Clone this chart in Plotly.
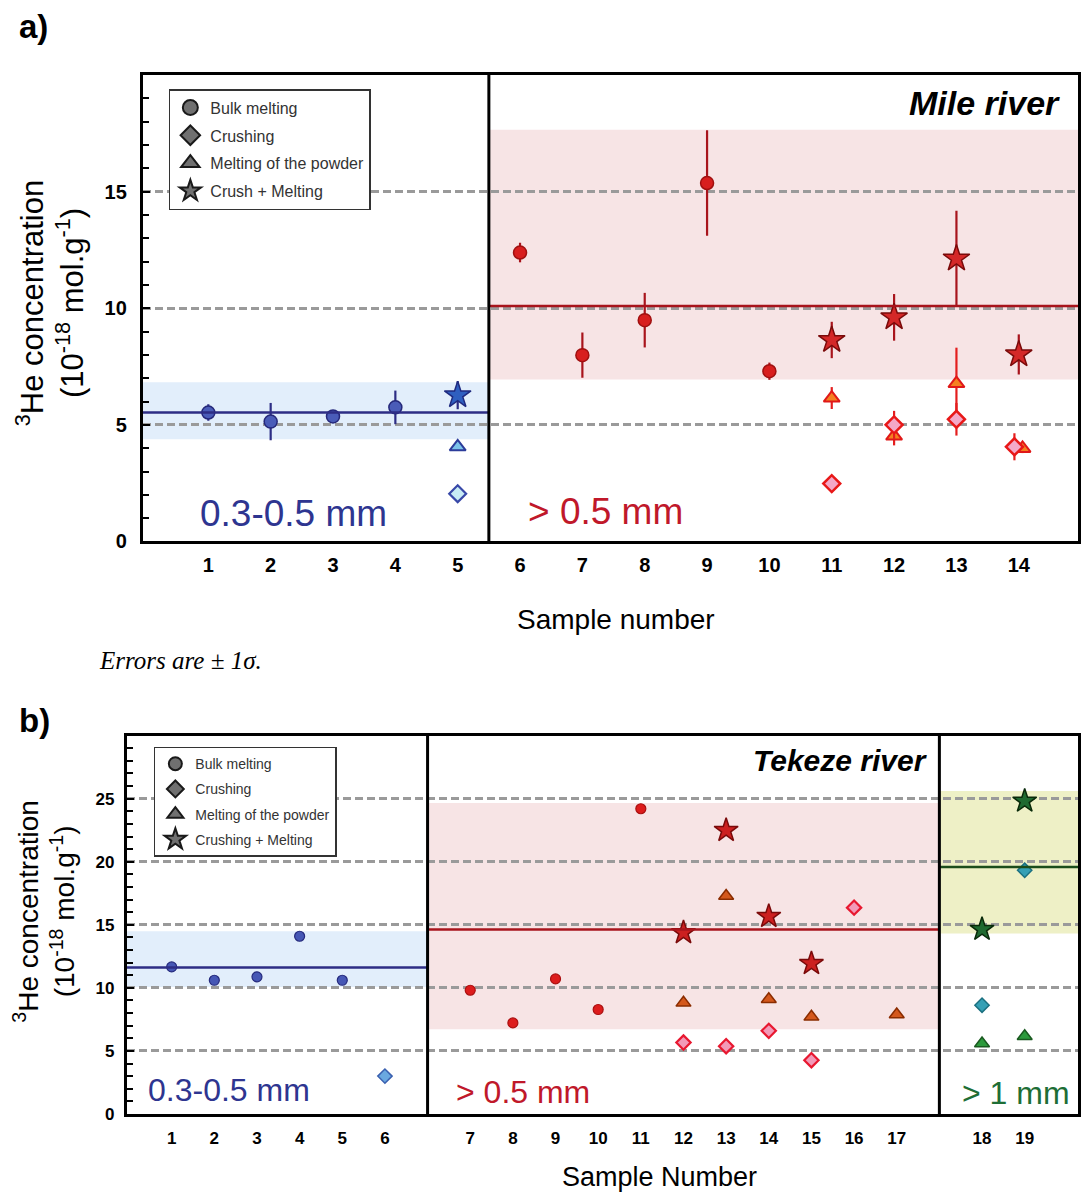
import plotly.graph_objects as go

W, H = 1081, 1192
H_EFF = 1180  # vertical mapping of the photographed page
FONT = "Liberation Sans, Arial, sans-serif"

# ---------------- Panel a data (Mile river) ----------------
a_fine_bulk_x = [1, 2, 3, 4]
a_fine_bulk_y = [5.53, 5.14, 5.36, 5.75]
a_fine_bulk_e = [0.35, 0.80, 0.15, 0.72]
a_fine_cm_x = [5]
a_fine_cm_y = [6.27]
a_fine_cm_e = [0.60]
a_fine_pow_x = [5]
a_fine_pow_y = [4.06]
a_fine_pow_e = [0.15]
a_fine_cr_x = [5]
a_fine_cr_y = [2.05]
a_fine_cr_e = [0.10]
a_fine_mean = [5.53]
a_fine_band = [4.38, 6.83]

a_coarse_bulk_x = [6, 7, 8, 9, 10]
a_coarse_bulk_y = [12.39, 7.99, 9.49, 15.37, 7.30]
a_coarse_bulk_e = [0.42, 0.97, 1.17, 2.26, 0.37]
a_coarse_cm_x = [11, 12, 13, 14]
a_coarse_cm_y = [8.64, 9.61, 12.13, 8.02]
a_coarse_cm_e = [0.78, 1.00, 2.05, 0.86]
a_coarse_pow_x = [11, 12, 13, 14.06]
a_coarse_pow_y = [6.15, 4.52, 6.77, 3.99]
a_coarse_pow_e = [0.47, 0.40, 1.54, 0.20]
a_coarse_cr_x = [11, 12, 13, 13.93]
a_coarse_cr_y = [2.48, 5.00, 5.24, 4.06]
a_coarse_cr_e = [0.37, 0.60, 0.70, 0.58]
a_coarse_mean = [10.1]
a_coarse_band = [6.94, 17.66]

a_ticks = list(range(1, 15))
a_yticks = [0, 5, 10, 15]

# ---------------- Panel b data (Tekeze river) ----------------
b_fine_bulk_s = [1, 2, 3, 4, 5]
b_fine_bulk_y = [11.66, 10.60, 10.87, 14.09, 10.60]
b_fine_cr_s = [6]
b_fine_cr_y = [3.0]
b_fine_mean = [11.61]
b_fine_band = [10.07, 14.48]

b_mid_bulk_s = [7, 8, 9, 10, 11]
b_mid_bulk_y = [9.81, 7.22, 10.71, 8.28, 24.2]
b_mid_cm_s = [12, 13, 14, 15]
b_mid_cm_y = [14.38, 22.49, 15.67, 11.93]
b_mid_pow_s = [12, 13, 14, 15, 17]
b_mid_pow_y = [8.81, 17.28, 9.10, 7.70, 7.88]
b_mid_cr_s = [12, 13, 14, 15, 16]
b_mid_cr_y = [5.66, 5.37, 6.59, 4.26, 16.36]
b_mid_mean = [14.62]
b_mid_band = [6.72, 24.65]

b_big_cm_s = [18, 19]
b_big_cm_y = [14.64, 24.81]
b_big_cr_s = [18, 19]
b_big_cr_y = [8.62, 19.32]
b_big_pow_s = [18, 19]
b_big_pow_y = [5.58, 6.16]
b_big_mean = [19.58]
b_big_band = [14.3, 25.6]

b_samples = list(range(1, 20))
b_yticks = [0, 5, 10, 15, 20, 25]


def bpos(samples):
    # sample number -> axis position (gaps between size fractions)
    return [s + (0 if s <= 6 else (1 if s <= 17 else 2)) for s in samples]


fig = go.Figure()


def add(x, y, err, xa, ya, symbol, size, fill, line, lw, ecol=None):
    kw = {}
    if err is not None:
        kw["error_y"] = dict(type="data", array=err, visible=True, width=0,
                             thickness=2.2, color=ecol)
    fig.add_trace(go.Scatter(x=x, y=y, mode="markers", xaxis=xa, yaxis=ya,
                             showlegend=False, hoverinfo="skip",
                             marker=dict(symbol=symbol, size=size, color=fill,
                                         line=dict(color=line, width=lw)), **kw))


# Panel a traces
add(a_fine_bulk_x, a_fine_bulk_y, a_fine_bulk_e, "x", "y", "circle", 13, "#4a5cb8", "#25287a", 1.5, "#2d2d85")
add(a_fine_cm_x, a_fine_cm_y, a_fine_cm_e, "x", "y", "star", 20, "#2f5fc0", "#1f2a80", 1.5, "#2d2d85")
add(a_fine_pow_x, a_fine_pow_y, a_fine_pow_e, "x", "y", "triangle-up", 14, "#7cc3ea", "#2c3c9a", 2, "#2d2d85")
add(a_fine_cr_x, a_fine_cr_y, a_fine_cr_e, "x", "y", "diamond", 13, "#c8ecf5", "#3848a8", 2.2, "#2d2d85")

add(a_coarse_bulk_x, a_coarse_bulk_y, a_coarse_bulk_e, "x", "y", "circle", 13, "#d81e1e", "#a01010", 1.5, "#a8141c")
add(a_coarse_cm_x, a_coarse_cm_y, a_coarse_cm_e, "x", "y", "star", 20, "#d42828", "#7a0a0a", 1.5, "#a8141c")
add(a_coarse_pow_x, a_coarse_pow_y, a_coarse_pow_e, "x", "y", "triangle-up", 14, "#f58020", "#e01818", 2, "#e41e1e")
add(a_coarse_cr_x, a_coarse_cr_y, a_coarse_cr_e, "x", "y", "diamond", 13, "#f4a8c8", "#e81818", 2.5, "#e41e1e")

# Panel b traces
add(bpos(b_fine_bulk_s), b_fine_bulk_y, None, "x2", "y2", "circle", 10, "#4657b5", "#262b7e", 1.2)
add(bpos(b_fine_cr_s), b_fine_cr_y, None, "x2", "y2", "diamond", 11, "#6aa8e0", "#3a60b0", 1.5)

add(bpos(b_mid_bulk_s), b_mid_bulk_y, None, "x2", "y2", "circle", 10, "#dd1c1c", "#aa1010", 1.2)
add(bpos(b_mid_pow_s), b_mid_pow_y, None, "x2", "y2", "triangle-up", 13, "#d4581c", "#8a2c00", 1.5)
add(bpos(b_mid_cr_s), b_mid_cr_y, None, "x2", "y2", "diamond", 11, "#f29ab8", "#e81830", 2.2)
add(bpos(b_mid_cm_s), b_mid_cm_y, None, "x2", "y2", "star", 18, "#cc2020", "#7a0a0a", 1.5)

add(bpos(b_big_cm_s), b_big_cm_y, None, "x2", "y2", "star", 18, "#1f6a30", "#0a2a0a", 1.5)
add(bpos(b_big_cr_s), b_big_cr_y, None, "x2", "y2", "diamond", 11, "#35a0b5", "#1b7080", 1.5)
add(bpos(b_big_pow_s), b_big_pow_y, None, "x2", "y2", "triangle-up", 13, "#2c9a3c", "#1a5a20", 1.5)

# Legends (gray symbols)
legend_a_names = ["Bulk melting", "Crushing", "Melting of the powder", "Crush + Melting"]
legend_b_names = ["Bulk melting", "Crushing", "Melting of the powder", "Crushing + Melting"]
legend_symbols = ["circle", "diamond", "triangle-up", "star"]
legend_a_sizes = [15, 15, 16, 20]
legend_b_sizes = [13, 13, 14, 18]
for i, (nm, sym, sz) in enumerate(zip(legend_a_names, legend_symbols, legend_a_sizes)):
    fig.add_trace(go.Scatter(x=[None], y=[None], mode="markers", name=nm, legend="legend",
                             legendgroup="a%d" % i, xaxis="x", yaxis="y",
                             marker=dict(symbol=sym, size=sz, color="#707070",
                                         line=dict(color="#1a1a1a", width=2))))
for i, (nm, sym, sz) in enumerate(zip(legend_b_names, legend_symbols, legend_b_sizes)):
    fig.add_trace(go.Scatter(x=[None], y=[None], mode="markers", name=nm, legend="legend2",
                             legendgroup="b%d" % i, xaxis="x2", yaxis="y2",
                             marker=dict(symbol=sym, size=sz, color="#707070",
                                         line=dict(color="#1a1a1a", width=2))))

shapes = []


def band(xref, yref, x0, x1, yb, col):
    shapes.append(dict(type="rect", xref=xref, yref=yref, x0=x0, x1=x1, y0=yb[0], y1=yb[1],
                       fillcolor=col, line=dict(width=0), layer="below"))


def hline(xref, yref, x0, x1, yv, col):
    shapes.append(dict(type="line", xref=xref, yref=yref, x0=x0, x1=x1, y0=yv[0], y1=yv[0],
                       line=dict(color=col, width=2.5), layer="above"))


def vline(xref, yref, xv):
    shapes.append(dict(type="line", xref=xref, yref=yref, x0=xv, x1=xv, y0=0, y1=1,
                       line=dict(color="black", width=3), layer="above"))


A_X = [-0.05, 14.95]
B_X = [-0.05, 22.25]
band("x", "y", A_X[0], 5.5, a_fine_band, "#e2eefb")
band("x", "y", 5.5, A_X[1], a_coarse_band, "#f7e4e5")
hline("x", "y", A_X[0], 5.5, a_fine_mean, "#2d2d85")
hline("x", "y", 5.5, A_X[1], a_coarse_mean, "#a8141c")
vline("x", "y domain", 5.5)

band("x2", "y2", B_X[0], 7, b_fine_band, "#e2eefb")
band("x2", "y2", 7, 19, b_mid_band, "#f7e4e5")
band("x2", "y2", 19, B_X[1], b_big_band, "#eef0c6")
hline("x2", "y2", B_X[0], 7, b_fine_mean, "#2d2d85")
hline("x2", "y2", 7, 19, b_mid_mean, "#a8141c")
hline("x2", "y2", 19, B_X[1], b_big_mean, "#1b4d1b")
vline("x2", "y2 domain", 7)
vline("x2", "y2 domain", 19)


def px(x):
    return x / W


def py(y):
    return 1 - y / H_EFF


ann = []


def text(x, y, t, size, color="black", xanchor="left", yanchor="middle", bold=False,
         italic=False, family=FONT, angle=0):
    ann.append(dict(x=px(x), y=py(y), xref="paper", yref="paper", text=t, showarrow=False,
                    xanchor=xanchor, yanchor=yanchor, textangle=angle,
                    font=dict(size=size, color=color, family=family,
                              weight="bold" if bold else "normal",
                              style="italic" if italic else "normal")))


text(17, 26, "a)", 33, bold=True)
text(17, 720, "b)", 33, bold=True)
text(97, 660, "Errors are ± 1σ.", 25, italic=True, family="Liberation Serif, Times New Roman, serif")
text(617, 619, "Sample number", 28, xanchor="center")
text(660, 1176, "Sample Number", 27, xanchor="center")
text(50, 303, "<sup>3</sup>He concentration<br>(10<sup>-18</sup> mol.g<sup>-1</sup>)", 31,
     xanchor="center", angle=-90)
text(44, 910, "<sup>3</sup>He concentration<br>(10<sup>-18</sup> mol.g<sup>-1</sup>)", 28,
     xanchor="center", angle=-90)
text(1063, 103, "Mile river", 34, xanchor="right", bold=True, italic=True)
text(931, 760, "Tekeze river", 30, xanchor="right", bold=True, italic=True)
text(198, 513, "0.3-0.5 mm", 37, color="#2e3590")
text(526, 511, "> 0.5 mm", 37, color="#c0182a")
text(146, 1089, "0.3-0.5 mm", 32, color="#2e3590")
text(454, 1091, "> 0.5 mm", 32, color="#c0182a")
text(961, 1092, "> 1 mm", 32, color="#1e6e36")

axis_common = dict(showline=True, linewidth=3, linecolor="black", mirror=True, zeroline=False)

fig.update_layout(
    width=W, height=H, autosize=False, margin=dict(l=0, r=0, t=0, b=0),
    paper_bgcolor="white", plot_bgcolor="white",
    shapes=shapes, annotations=ann,
    xaxis=dict(domain=[px(143), px(1079)], anchor="y", range=A_X, tickmode="array",
               tickvals=a_ticks, ticktext=[str(t) for t in a_ticks], showgrid=False,
               ticks="outside", ticklen=4, tickcolor="rgba(0,0,0,0)",
               tickfont=dict(size=20, family=FONT, weight="bold", color="black"), **axis_common),
    yaxis=dict(domain=[py(541), py(75)], anchor="x", range=[0, 20], tickmode="array",
               tickvals=a_yticks, ticktext=[str(t) for t in a_yticks],
               showgrid=True, gridcolor="#9a9a9a", gridwidth=2.5, griddash="8px,4px",
               ticks="inside", ticklen=7, tickwidth=2, tickcolor="black", ticklabelstandoff=9,
               minor=dict(tickmode="linear", tick0=0, dtick=1, ticks="inside", ticklen=6,
                          tickwidth=2, tickcolor="black", showgrid=False),
               tickfont=dict(size=20, family=FONT, weight="bold", color="black"), **axis_common),
    xaxis2=dict(domain=[px(127), px(1079)], anchor="y2", range=B_X, tickmode="array",
                tickvals=bpos(b_samples), ticktext=[str(s) for s in b_samples], showgrid=False,
                ticks="outside", ticklen=7, tickcolor="rgba(0,0,0,0)",
                tickfont=dict(size=17, family=FONT, weight="bold", color="black"), **axis_common),
    yaxis2=dict(domain=[py(1113), py(735)], anchor="x2", range=[0, 30], tickmode="array",
                tickvals=b_yticks, ticktext=[str(t) for t in b_yticks],
                showgrid=True, gridcolor="#9a9a9a", gridwidth=2.5, griddash="8px,4px",
                ticks="inside", ticklen=7, tickwidth=2, tickcolor="black", ticklabelstandoff=6,
                minor=dict(tickmode="linear", tick0=0, dtick=1, ticks="inside", ticklen=6,
                           tickwidth=2, tickcolor="black", showgrid=False),
                tickfont=dict(size=17, family=FONT, weight="bold", color="black"), **axis_common),
    legend=dict(x=px(169), y=py(89), xanchor="left", yanchor="top", bgcolor="white",
                bordercolor="#333333", borderwidth=1.5, tracegroupgap=4, traceorder="grouped",
                font=dict(size=16, family=FONT, color="#333333")),
    legend2=dict(x=px(154), y=py(746), xanchor="left", yanchor="top", bgcolor="white",
                 bordercolor="#333333", borderwidth=1.5, tracegroupgap=4, traceorder="grouped",
                 font=dict(size=14, family=FONT, color="#333333")),
)

fig.write_html("out.html",
               config={"displayModeBar": False, "responsive": False},
               post_script="document.body.style.margin='0';document.body.style.overflow='hidden';")
